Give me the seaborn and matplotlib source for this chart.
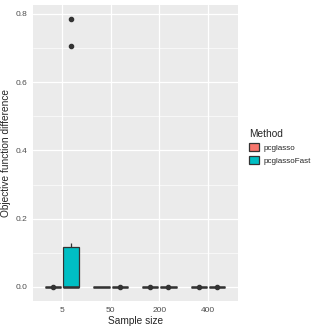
import pandas as pd
import seaborn as sns
import matplotlib.pyplot as plt

# Sample sizes on the x axis
sample_sizes = ["5", "50", "200", "400"]
methods = ["pcglasso", "pcglassoFast"]

# Objective function differences per (method, sample size)
pcglasso_5 = [0.0, 0.0, 0.0, 0.0, 0.0, 0.0, 0.0, 0.0, 0.0, 0.0, 0.0, 0.0005]
pcglasso_50 = [0.0, 0.0, 0.0, 0.0, 0.0, 0.0, 0.0, 0.0, 0.0, 0.0, 0.0, 0.0]
pcglasso_200 = [0.0, 0.0, 0.0, 0.0, 0.0, 0.0, 0.0, 0.0, 0.0, 0.0, 0.0, 0.0004]
pcglasso_400 = [0.0, 0.0, 0.0, 0.0, 0.0, 0.0, 0.0, 0.0, 0.0, 0.0, 0.0, 0.0003]
fast_5 = [0.0, 0.0, 0.0, 0.0, 0.0, 0.0, 0.0, 0.06, 0.112, 0.13, 0.707, 0.785]
fast_50 = [0.0, 0.0, 0.0, 0.0, 0.0, 0.0, 0.0, 0.0, 0.0, 0.0, 0.0, 0.0004]
fast_200 = [0.0, 0.0, 0.0, 0.0, 0.0, 0.0, 0.0, 0.0, 0.0, 0.0, 0.0, 0.0005]
fast_400 = [0.0, 0.0, 0.0, 0.0, 0.0, 0.0, 0.0, 0.0, 0.0, 0.0, 0.0, 0.0004]

groups = {
    ("pcglasso", "5"): pcglasso_5, ("pcglasso", "50"): pcglasso_50,
    ("pcglasso", "200"): pcglasso_200, ("pcglasso", "400"): pcglasso_400,
    ("pcglassoFast", "5"): fast_5, ("pcglassoFast", "50"): fast_50,
    ("pcglassoFast", "200"): fast_200, ("pcglassoFast", "400"): fast_400,
}
rows = [(m, n, v) for (m, n), vals in groups.items() for v in vals]
df = pd.DataFrame(rows, columns=["Method", "Sample size", "diff"])

sns.set_theme(style="darkgrid", rc={
    "axes.facecolor": "#EBEBEB",
    "grid.color": "white",
    "axes.edgecolor": "#EBEBEB",
})
plt.rcParams["font.family"] = ["Liberation Sans", "DejaVu Sans"]

fig = plt.figure(figsize=(3.3, 3.3), dpi=100)
ax = fig.add_axes([0.1, 0.088, 0.621, 0.897])

sns.boxplot(data=df, x="Sample size", y="diff", hue="Method",
            order=sample_sizes, hue_order=methods,
            palette=["#F8766D", "#00BFC4"], width=0.75, gap=0.1,
            linecolor="#333333", linewidth=0.9, fliersize=3,
            showcaps=False,
            medianprops={"linewidth": 1.8},
            flierprops={"marker": "o", "markerfacecolor": "#333333",
                        "markeredgecolor": "#333333"},
            whis=1.5, saturation=1, ax=ax)

ax.set_xlim(-0.6, 3.62)
ax.set_ylim(-0.041, 0.826)
ax.set_yticks([0.0, 0.2, 0.4, 0.6, 0.8])
ax.set_yticklabels(["0.0", "0.2", "0.4", "0.6", "0.8"])
ax.set_yticks([0.1, 0.3, 0.5, 0.7], minor=True)
ax.grid(True, which="major", color="white", linewidth=0.9)
ax.grid(True, which="minor", axis="y", color="white", linewidth=0.45)
ax.tick_params(axis="both", which="major", labelsize=6, labelcolor="#4D4D4D",
               length=2.5, width=0.6, color="#333333", pad=1.5)
ax.tick_params(axis="both", which="minor", length=0)
ax.set_xlabel("Sample size", fontsize=7.3, labelpad=2)
ax.set_ylabel("Objective function difference", fontsize=7.3, labelpad=3)
for s in ax.spines.values():
    s.set_visible(False)

sns.move_legend(ax, "center left", bbox_to_anchor=(1.04, 0.52), frameon=False,
                title="Method", fontsize=5.8, title_fontsize=7.3,
                handlelength=1.2, handleheight=1.2, borderaxespad=0,
                labelspacing=0.5, handletextpad=0.6)
leg = ax.get_legend()
leg._legend_box.align = "left"

fig.savefig("out.png", dpi=100)
